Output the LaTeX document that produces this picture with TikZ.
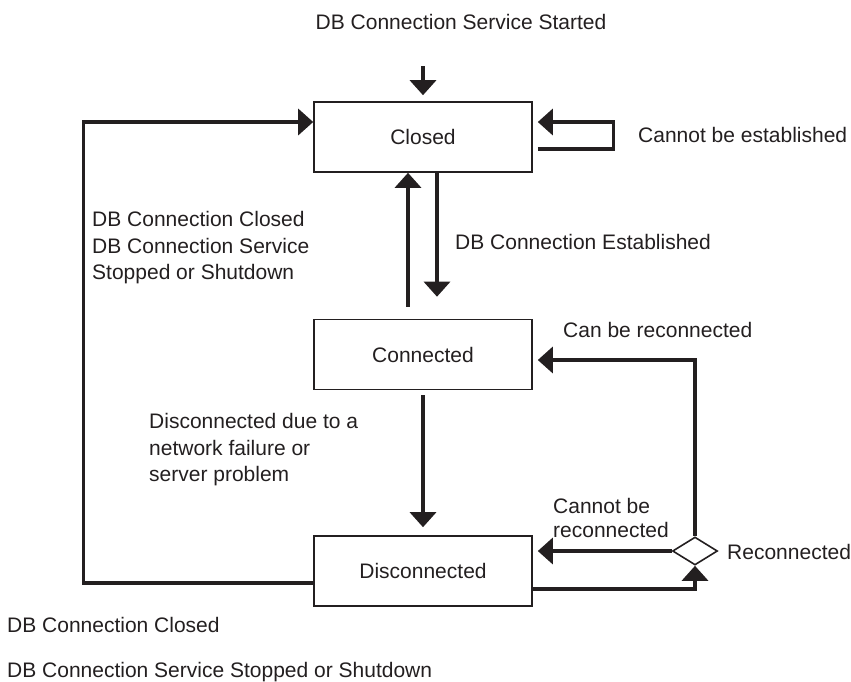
\documentclass[tikz,border=0pt]{standalone}
\usepackage{fontspec}
\setmainfont{Liberation Sans}
\usetikzlibrary{arrows.meta,shapes.geometric,calc}
\definecolor{ink}{RGB}{35,31,32}
\begin{document}
\begin{tikzpicture}[x=1pt,y=-1pt,
  font=\fontsize{21}{26.5}\selectfont,
  every node/.style={inner sep=0pt, text=ink},
  box/.style={draw=ink, line width=1.6pt, minimum width=218pt, minimum height=70pt},
  arr/.style={draw=ink, line width=3.3pt, -{Triangle[length=15pt,width=26pt]}},
  lbl/.style={anchor=base west}]
\useasboundingbox (0,0) rectangle (851,681);

% states
\node[anchor=base] (start) at (461,29.5) {DB Connection Service Started};
\node[box] (closed) at (423,137) {Closed};
\node[box] (connected) at (423,354.5) {Connected};
\node[box] (disc) at (423,571) {Disconnected};
\node[diamond, draw=ink, line width=1.6pt, aspect=1.6, minimum width=45pt, minimum height=28pt] (dec) at (695,551) {};

% labels
\node[lbl] (cbe) at (638,142.5) {Cannot be established};
\node[lbl] (l1) at (92,226.5) {DB Connection Closed};
\node[lbl] (l2) at (92,253) {DB Connection Service};
\node[lbl] (l3) at (92,279.5) {Stopped or Shutdown};
\node[lbl] (est) at (455,249.5) {DB Connection Established};
\node[lbl] (can) at (563,337.5) {Can be reconnected};
\node[lbl] (d1) at (149,428.5) {Disconnected due to a};
\node[lbl] (d2) at (149,455) {network failure or};
\node[lbl] (d3) at (149,481.5) {server problem};
\node[lbl] (cn1) at (553,513) {Cannot be};
\node[lbl] (cn2) at (553,537) {reconnected};
\node[lbl] (rec) at (727,559.5) {Reconnected};
\node[lbl] (b1) at (7,632.5) {DB Connection Closed};
\node[lbl] (b2) at (7,677.5) {DB Connection Service Stopped or Shutdown};

% connectors
\draw[arr, shorten <=36.5pt, shorten >=6pt] (start.south -| closed.north) -- (closed.north);
\draw[arr, shorten <=5pt, shorten >=5pt] ([yshift=-12pt]closed.east) -- ++(81,0) -- ++(0,-27) -- ([yshift=15pt]closed.east);
\draw[arr] ([yshift=-12pt]disc.west) -- ++(-230,0) |- ([yshift=15pt]closed.west);
\draw[arr, shorten >=22pt] ([xshift=14pt]closed.south) -- ([xshift=14pt]connected.north);
\draw[arr, shorten <=12pt] ([xshift=-15pt]connected.north) -- ([xshift=-15pt]closed.south);
\draw[arr, shorten <=5pt, shorten >=8pt] (connected.south) -- (disc.north);
\draw[arr, shorten >=5pt] (dec.north) |- ([yshift=-5.5pt]connected.east);
\draw[arr, shorten >=5pt] (dec.west) -- (dec.west -| disc.east);
\draw[arr] ([yshift=-18pt]disc.east) -| (dec.south);
\end{tikzpicture}
\end{document}
